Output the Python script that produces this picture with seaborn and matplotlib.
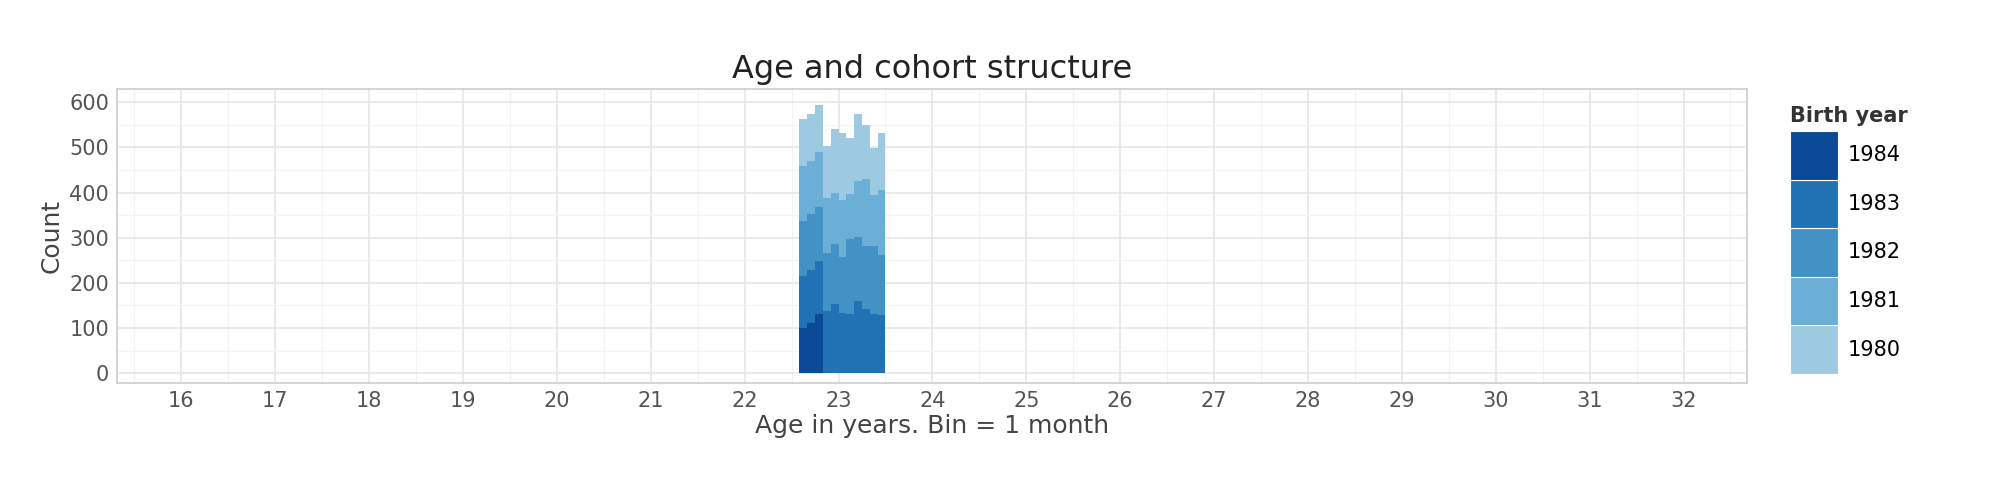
import numpy as np
import pandas as pd
import matplotlib
matplotlib.use("Agg")
import matplotlib.pyplot as plt
import seaborn as sns
from matplotlib.patches import Rectangle

# monthly bins starting at 22 years 7 months
bin_start = 22 + 7 / 12
years = [1980, 1981, 1982, 1983, 1984]
counts_1980 = [106, 105, 105, 115, 142, 149, 126, 149, 120, 105, 127]
counts_1981 = [122, 118, 123, 121, 112, 125, 99, 125, 148, 113, 144]
counts_1982 = [120, 123, 119, 129, 133, 125, 167, 142, 139, 149, 132]
counts_1983 = [117, 119, 118, 138, 154, 133, 130, 159, 143, 132, 129]
counts_1984 = [99, 110, 130, 0, 0, 0, 0, 0, 0, 0, 0]
colors = ["#9ecae1", "#6baed6", "#4292c6", "#2171b5", "#0b4a96"]

all_counts = [counts_1980, counts_1981, counts_1982, counts_1983, counts_1984]
n_bins = len(counts_1980)
edges = bin_start + np.arange(n_bins + 1) / 12
mids = (edges[:-1] + edges[1:]) / 2
rows = []
for yr, cts in zip(years, all_counts):
    for m, c in zip(mids, cts):
        rows.append({"age": m, "count": c, "year": str(yr)})
df = pd.DataFrame(rows)

sns.set_style("whitegrid")
plt.rcParams["font.family"] = ["DejaVu Sans"]
fig = plt.figure(figsize=(20, 4.8), dpi=100)
ax = fig.add_axes([0.0587, 0.202, 0.815, 0.613])

palette = {str(y): c for y, c in zip(years, colors)}
sns.histplot(data=df, x="age", weights="count", hue="year", hue_order=[str(y) for y in years],
             multiple="stack", binwidth=1 / 12, binrange=(edges[0], edges[-1]),
             palette=palette, alpha=1, linewidth=0, legend=False, ax=ax)

ax.set_xlim(15.32, 32.68)
ax.set_ylim(-22, 630)
ax.set_xticks(range(16, 33))
ax.set_xticks(np.arange(15.5, 33, 1), minor=True)
ax.set_yticks(range(0, 601, 100))
ax.set_yticks(range(50, 601, 100), minor=True)
ax.grid(which="major", color="#e6e6e6", linewidth=1.2)
ax.grid(which="minor", color="#f3f3f3", linewidth=0.8)
ax.set_axisbelow(True)
for s in ax.spines.values():
    s.set_color("#cccccc")
    s.set_linewidth(1.2)
ax.tick_params(which="both", length=0, labelsize=15, labelcolor="#555555", pad=6)
ax.set_xlabel("Age in years. Bin = 1 month", fontsize=18, color="#444444", labelpad=2)
ax.set_ylabel("Count", fontsize=18, color="#444444")
ax.set_title("Age and cohort structure", fontsize=23, color="#222222", pad=8)

# legend
lax = fig.add_axes([0.895, 0.221, 0.024, 0.506])
lax.set_xlim(0, 1)
lax.set_ylim(0, 5)
lax.axis("off")
for i, (yr, c) in enumerate(zip(years, colors)):
    lax.add_patch(Rectangle((0, i), 1, 1, facecolor=c, edgecolor="white", linewidth=0.8))
    fig.text(0.924, 0.221 + 0.506 * (i + 0.5) / 5, str(yr), fontsize=15, va="center", color="#000000")
fig.text(0.895, 0.745, "Birth year", fontsize=15, fontweight="bold", color="#333333")

fig.savefig("out.png", dpi=100)
